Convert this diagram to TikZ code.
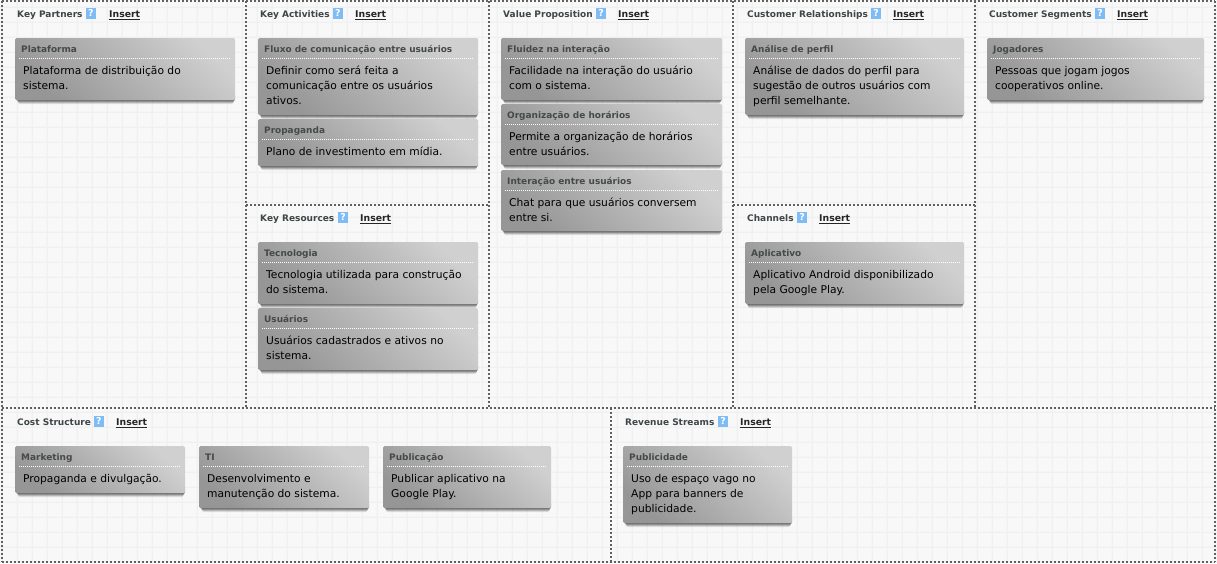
\documentclass[tikz,border=0pt]{standalone}
\usepackage{fontspec}
\setmainfont{DejaVu Sans}
\usetikzlibrary{calc}
\definecolor{pagebg}{HTML}{F8F8F8}
\definecolor{gridc}{HTML}{F5F5F5}
\definecolor{gridd}{HTML}{F0F0F0}
\definecolor{dotc}{HTML}{606060}
\definecolor{cardd}{HTML}{969696}
\definecolor{cardl}{HTML}{D0D0D0}
\definecolor{titlec}{HTML}{45494A}
\definecolor{headc}{HTML}{3F4648}
\definecolor{helpc}{HTML}{7FBBF5}
\tikzset{
 x=1pt,y=-1pt,
 paneline/.style={dotc,line width=2pt,dash pattern=on 2pt off 2pt},
 headtxt/.style={anchor=base west,inner sep=0pt,font=\fontsize{9}{11}\selectfont\bfseries,text=headc},
 instxt/.style={anchor=base west,inner sep=0pt,font=\fontsize{9.3}{11}\selectfont\bfseries,text=black!85},
 helpbox/.style={fill=helpc,minimum width=9.5pt,minimum height=10.5pt,inner sep=0pt,text=white,font=\fontsize{9.5}{9}\selectfont\bfseries},
 cardbox/.style={rounded corners=1.5pt,shading=axis,left color=cardd,right color=cardl,shading angle=138},
 cardtitle/.style={anchor=base west,inner sep=0pt,font=\fontsize{8.95}{11}\selectfont\bfseries,text=titlec},
 cardtext/.style={anchor=north west,inner sep=0pt,align=left,font=\fontsize{10.7}{15}\selectfont,text=black},
}
% #1 name #2 x #3 y #4 w #5 h #6 title #7 body
\newcommand{\mycard}[7]{
 \foreach \k/\o in {1/0.10,2/0.16,3/0.20,4/0.24}{
   \fill[black,opacity=\o,rounded corners=2pt] ({#2+3.5-\k*0.5},{#3+#5-6}) rectangle ({#2+#4-2+\k*0.5},{#3+#5+5-\k});
 }
 \path[cardbox] (#2,#3) rectangle ({#2+#4},{#3+#5});
 \coordinate (#1) at (#2,#3);
 \node[cardtitle] (#1t) at ({#2+6},{#3+14}) {#6};
 \draw[white,line width=1pt,dash pattern=on 1pt off 1pt] ({#2+4},{#3+20.5}) -- ({#2+#4-4},{#3+20.5});
 \node[cardtext] (#1b) at ({#2+8},{#3+28}) {#7};
}
% #1 name #2 x #3 baseline y #4 title #5 help x #6 insert x
\newcommand{\myhead}[6]{
 \node[headtxt] (#1) at (#2,#3) {#4};
 \node[helpbox] (#1q) at (#5,{#3-3.7}) {?};
 \node[instxt] (#1i) at (#6,#3) {Insert};
 \draw[black!85,line width=.9pt] (#1i.base west)++(0,2) -- ($(#1i.base east)+(0,2)$);
}
\begin{document}
\begin{tikzpicture}
\useasboundingbox (0,0) rectangle (1217,563);
\fill[pagebg] (0,0) rectangle (1217,563);
\foreach \i in {0,...,81}{\draw[gridc,line width=2.4pt] ({2+15*\i},0) -- ({2+15*\i},563);}
\foreach \i in {0,...,37}{\draw[gridc,line width=2.4pt] (0,{7+15*\i}) -- (1217,{7+15*\i});}
\foreach \i in {0,...,81}{\draw[gridd,line width=.8pt] ({2+15*\i},0) -- ({2+15*\i},563);}
\foreach \i in {0,...,37}{\draw[gridd,line width=.8pt] (0,{7+15*\i}) -- (1217,{7+15*\i});}
% panels
\draw[paneline] (2,1) -- (1215,1);
\draw[paneline] (2,1) -- (2,562);
\draw[paneline] (1215,1) -- (1215,562);
\draw[paneline] (2,562) -- (1215,562);
\draw[paneline] (2,408) -- (1215,408);
\draw[paneline] (246,1) -- (246,408);
\draw[paneline] (489,1) -- (489,408);
\draw[paneline] (733,1) -- (733,408);
\draw[paneline] (975,1) -- (975,408);
\draw[paneline] (246,205) -- (489,205);
\draw[paneline] (733,205) -- (975,205);
\draw[paneline] (611,408) -- (611,562);
% headers
\myhead{hkp}{17}{17}{Key Partners}{91}{109}
\myhead{hka}{260}{17}{Key Activities}{338}{355}
\myhead{hkr}{260}{221}{Key Resources}{343}{360}
\myhead{hvp}{503}{17}{Value Proposition}{601}{618}
\myhead{hcr}{747}{17}{Customer Relationships}{876}{893}
\myhead{hch}{747}{221}{Channels}{802}{819}
\myhead{hcs}{989}{17}{Customer Segments}{1100}{1117}
\myhead{hco}{17}{425}{Cost Structure}{99}{116}
\myhead{hre}{625}{425}{Revenue Streams}{723}{740}
% cards
\mycard{c1}{15}{38}{220}{62}{Plataforma}{Plataforma de distribuição do\\sistema.}
\mycard{c2}{258}{38}{220}{77}{Fluxo de comunicação entre usuários}{Definir como será feita a\\comunicação entre os usuários\\ativos.}
\mycard{c3}{258}{119}{220}{47}{Propaganda}{Plano de investimento em mídia.}
\mycard{c4}{258}{242}{220}{62}{Tecnologia}{Tecnologia utilizada para construção\\do sistema.}
\mycard{c5}{258}{308}{220}{62}{Usuários}{Usuários cadastrados e ativos no\\sistema.}
\mycard{c6}{501}{38}{221}{62}{Fluidez na interação}{Facilidade na interação do usuário\\com o sistema.}
\mycard{c7}{501}{104}{221}{61}{Organização de horários}{Permite a organização de horários\\entre usuários.}
\mycard{c8}{501}{170}{221}{61}{Interação entre usuários}{Chat para que usuários conversem\\entre si.}
\mycard{c9}{745}{38}{219}{77}{Análise de perfil}{Análise de dados do perfil para\\sugestão de outros usuários com\\perfil semelhante.}
\mycard{c10}{745}{242}{219}{62}{Aplicativo}{Aplicativo Android disponibilizado\\pela Google Play.}
\mycard{c11}{987}{38}{217}{62}{Jogadores}{Pessoas que jogam jogos\\cooperativos online.}
\mycard{c12}{15}{446}{170}{47}{Marketing}{Propaganda e divulgação.}
\mycard{c13}{199}{446}{170}{62}{TI}{Desenvolvimento e\\manutenção do sistema.}
\mycard{c14}{383}{446}{168}{62}{Publicação}{Publicar aplicativo na\\Google Play.}
\mycard{c15}{623}{446}{169}{77}{Publicidade}{Uso de espaço vago no\\App para banners de\\publicidade.}
\end{tikzpicture}
\end{document}
